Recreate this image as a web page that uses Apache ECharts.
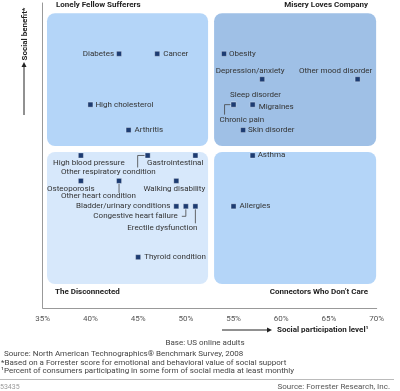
<!DOCTYPE html>
<html><head><meta charset="utf-8">
<script src="https://cdn.jsdelivr.net/npm/echarts@6/dist/echarts.min.js"></script>
<style>html,body{margin:0;padding:0;background:#fff}#c{width:400px;height:391px}</style>
</head><body><div id="c"></div>
<script>
// ---- data ----
const conditions = ['Diabetes','Cancer','High cholesterol','Arthritis','Obesity','Depression/anxiety','Other mood disorder','Sleep disorder','Chronic pain','Migraines','Skin disorder','Asthma','Allergies','High blood pressure','Other respiratory condition','Gastrointestinal','Osteoporosis','Other heart condition','Walking disability','Bladder/urinary conditions','Congestive heart failure','Erectile dysfunction','Thyroid condition'];
const participation = [43,47,40,44,54,58,68,55,55,57,56,57,55,39,46,51,39,43,49,49,50,51,45];
const benefit = [10,10,8,7,10,9,9,8,8,8,7,6,4,6,6,6,5,5,5,4,4,4,2];
const xTickValues = [35,40,45,50,55,60,65,70];
const xTickLabels = ['35%','40%','45%','50%','55%','60%','65%','70%'];
const quadrantNames = ['Lonely Fellow Sufferers','Misery Loves Company','The Disconnected','Connectors Who Don\u2019t Care'];
const quadrantXFrom = [35.45,52.96,35.45,52.96];
const quadrantXTo = [52.33,69.94,52.33,69.94];
const quadrantYFrom = [6.37,6.37,0.94,0.94];
const quadrantYTo = [11.6,11.6,6.14,6.14];

// ---- label layout (pixels relative to marker) ----
const layout = {
 'Diabetes':['right',-5,0],
 'Cancer':['left',6,0],
 'High cholesterol':['left',5,0],
 'Arthritis':['left',6,0],
 'Obesity':['left',5,0],
 'Depression/anxiety':['center',-12,-8],
 'Other mood disorder':['center',-22,-8],
 'Sleep disorder':['center',22,-10],
 'Chronic pain':['left',-14,15,[[-3,0],[-9,0],[-9,10]]],
 'Migraines':['left',6,2],
 'Skin disorder':['left',5,0],
 'Asthma':['left',5,0],
 'Allergies':['left',6,0],
 'High blood pressure':['center',8,8],
 'Other respiratory condition':['right',8,17,[[-3,0],[-10,0],[-10,12]]],
 'Gastrointestinal':['right',8,8],
 'Osteoporosis':['center',-10,8],
 'Other heart condition':['right',17,15,[[0,3],[0,12]]],
 'Walking disability':['center',-2,8],
 'Bladder/urinary conditions':['right',-6,0],
 'Congestive heart failure':['right',-8,10,[[0,3],[0,10],[-4,10]]],
 'Erectile dysfunction':['right',2,22,[[0,3],[0,17]]],
 'Thyroid condition':['left',6,0]
};
const quadColors = ['#b4d5f8','#9fc0e6','#d7e8fb','#b4d5f8'];
const FONT = 'Roboto, "Liberation Sans", sans-serif';
const TXT = '#333';

const chart = echarts.init(document.getElementById('c'), null, {renderer:'canvas'});

const quadData = quadrantNames.map((n,i)=>[quadrantXFrom[i],quadrantXTo[i],quadrantYFrom[i],quadrantYTo[i],i]);
const pointData = conditions.map((n,i)=>[participation[i],benefit[i],i]);

function txt(x,y,text,align,opts){
  opts = opts||{};
  return {type:'text', x:x, y:y, style:{text:text, x:0, y:0, fill:opts.fill||TXT, textFill:opts.fill||TXT,
    font:(opts.weight||'normal')+' '+(opts.size||8)+'px '+FONT,
    align:align, textAlign:align, verticalAlign:'middle', textVerticalAlign:'middle'}};
}

const option = {
  animation:false,
  backgroundColor:'#fff',
  grid:{left:42.7, right:23.3, top:2.96, bottom:83},
  xAxis:{type:'value', min:35, max:70, interval:5,
    axisLine:{show:true, onZero:false, lineStyle:{color:'#999', width:1}},
    axisTick:{show:false}, splitLine:{show:false},
    axisLabel:{margin:7, color:'#555', fontSize:8, fontFamily:FONT,
      formatter:v=>{const k=xTickValues.indexOf(v); return k>=0?xTickLabels[k]:'';}}},
  yAxis:{type:'value', min:0, max:12,
    axisLine:{show:true, onZero:false, lineStyle:{color:'#999', width:1}},
    axisTick:{show:false}, splitLine:{show:false}, axisLabel:{show:false}},
  series:[
    {type:'custom', z:1, data:quadData, silent:true,
     renderItem:(params,api)=>{
       const p0 = api.coord([api.value(0), api.value(3)]);
       const p1 = api.coord([api.value(1), api.value(2)]);
       return {type:'rect', shape:{x:p0[0], y:p0[1], width:p1[0]-p0[0], height:p1[1]-p0[1], r:8},
         style:{fill:quadColors[api.value(4)]}};
     }},
    {type:'custom', z:3, data:pointData, silent:true,
     renderItem:(params,api)=>{
       const p = api.coord([api.value(0), api.value(1)]);
       const name = conditions[api.value(2)];
       const L = layout[name];
       const children = [];
       if (L[3]) {
         children.push({type:'polyline', shape:{points:L[3].map(q=>[p[0]+q[0], p[1]+q[1]])},
           style:{stroke:'#444', lineWidth:0.8, fill:null}});
       }
       children.push({type:'rect', shape:{x:p[0]-2.5, y:p[1]-2.5, width:5, height:5},
         style:{fill:'#1d3c72', stroke:'rgba(255,255,255,0.6)', lineWidth:0.5}});
       children.push(txt(p[0]+L[1], p[1]+L[2], name, L[0]));
       return {type:'group', children:children};
     }}
  ],
  graphic:[
    txt(56,5,quadrantNames[0],'left',{weight:'bold',fill:'#222'}),
    txt(368,5,quadrantNames[1],'right',{weight:'bold',fill:'#222'}),
    txt(55,292,quadrantNames[2],'left',{weight:'bold',fill:'#222'}),
    txt(368,292,quadrantNames[3],'right',{weight:'bold',fill:'#222'}),
    // y axis title
    Object.assign(txt(25,34,'Social benefit*','center',{weight:'bold',fill:'#222'}),{rotation:Math.PI/2}),
    {type:'line', shape:{x1:24,y1:115,x2:24,y2:66}, style:{stroke:'#222',lineWidth:1}},
    {type:'polygon', shape:{points:[[24,62],[21.5,67],[26.5,67]]}, style:{fill:'#222'}},
    // x axis title
    {type:'line', shape:{x1:222,y1:330,x2:268,y2:330}, style:{stroke:'#222',lineWidth:1}},
    {type:'polygon', shape:{points:[[272,330],[267,327.5],[267,332.5]]}, style:{fill:'#222'}},
    txt(277,330,'Social participation level\u00b9','left',{weight:'bold',fill:'#222'}),
    // footnotes
    txt(205,343,'Base: US online adults','center',{fill:'#444'}),
    txt(4,354,'Source: North American Technographics\u00ae Benchmark Survey, 2008','left',{fill:'#444'}),
    txt(1,362.5,'*Based on a Forrester score for emotional and behavioral value of social support','left',{fill:'#444'}),
    txt(1,371,'\u00b9Percent of consumers participating in some form of social media at least monthly','left',{fill:'#444'}),
    {type:'line', shape:{x1:0,y1:379.5,x2:394,y2:379.5}, style:{stroke:'#bbb',lineWidth:1}},
    txt(0,387,'53435','left',{fill:'#999',size:7}),
    txt(390,387,'Source: Forrester Research, Inc.','right',{fill:'#555'})
  ]
};
chart.setOption(option);
</script></body></html>
